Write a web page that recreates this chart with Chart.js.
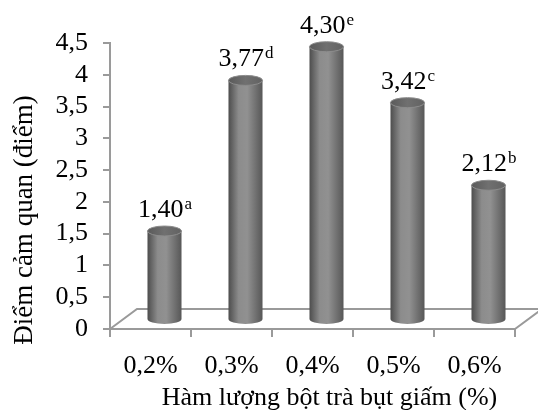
<!DOCTYPE html>
<html lang="vi">
<head>
<meta charset="UTF-8">
<title>Điểm cảm quan</title>
<style>
  html, body { margin: 0; padding: 0; background: #fff; }
  #wrap { width: 538px; height: 410px; }
</style>
</head>
<body>
<div id="wrap"><canvas id="chart" width="538" height="410"></canvas></div>
<script src="https://cdn.jsdelivr.net/npm/chart.js"></script>
<script>
const categories = ["0,2%", "0,3%", "0,4%", "0,5%", "0,6%"];
const scores = [1.40, 3.77, 4.30, 3.42, 2.12];
const letters = ["a", "d", "e", "c", "b"];
const yTicks = [0, 0.5, 1, 1.5, 2, 2.5, 3, 3.5, 4, 4.5];

const FONT = '"Liberation Serif", "Times New Roman", serif';
const AXIS_GREY = "#9a9a9a";
// fake 3D depth: floor goes back by this much, bars sit halfway
const DEPTH_X = 27, DEPTH_Y = -20;
const BAR_DX = 14, BAR_DY = -9;

function comma(v) {
  return String(v).replace(".", ",");
}

// floor outline behind the bars
const floorPlugin = {
  id: "floor",
  beforeDatasetsDraw(chart) {
    const { ctx, chartArea } = chart;
    const l = chartArea.left, r = chartArea.right, b = chartArea.bottom;
    ctx.save();
    ctx.strokeStyle = AXIS_GREY;
    ctx.lineWidth = 2;
    ctx.beginPath();
    ctx.moveTo(l, b);
    ctx.lineTo(l + DEPTH_X, b + DEPTH_Y);
    ctx.lineTo(r + DEPTH_X, b + DEPTH_Y);
    ctx.moveTo(r, b);
    ctx.lineTo(r + DEPTH_X, b + DEPTH_Y);
    ctx.stroke();
    ctx.restore();
  }
};

// cylinders + value labels with superscript letters
const cylinderPlugin = {
  id: "cylinders",
  afterDatasetsDraw(chart) {
    const { ctx } = chart;
    const meta = chart.getDatasetMeta(0);
    meta.data.forEach((bar, i) => {
      const rx = bar.width / 2, ry = 5;
      const cx = bar.x + BAR_DX;
      const top = bar.y + BAR_DY;
      const bottom = bar.base + BAR_DY;

      ctx.save();
      const g = ctx.createLinearGradient(cx - rx, 0, cx + rx, 0);
      g.addColorStop(0, "#4d4d4d");
      g.addColorStop(0.3, "#8c8c8c");
      g.addColorStop(0.55, "#919191");
      g.addColorStop(1, "#575757");
      ctx.fillStyle = g;
      ctx.beginPath();
      ctx.moveTo(cx - rx, top);
      ctx.lineTo(cx - rx, bottom);
      ctx.ellipse(cx, bottom, rx, ry, 0, Math.PI, 0, true);
      ctx.lineTo(cx + rx, top);
      ctx.closePath();
      ctx.fill();

      const gt = ctx.createLinearGradient(cx - rx, 0, cx + rx, 0);
      gt.addColorStop(0, "#5a5a5a");
      gt.addColorStop(0.5, "#707070");
      gt.addColorStop(1, "#626262");
      ctx.fillStyle = gt;
      ctx.beginPath();
      ctx.ellipse(cx, top, rx, ry, 0, 0, Math.PI * 2);
      ctx.fill();
      ctx.strokeStyle = "#8c8c8c";
      ctx.lineWidth = 1;
      ctx.stroke();

      // value label + letter
      const txt = scores[i].toFixed(2).replace(".", ",");
      const sup = letters[i];
      ctx.fillStyle = "#000";
      ctx.textBaseline = "alphabetic";
      ctx.textAlign = "left";
      ctx.font = "26px " + FONT;
      const w1 = ctx.measureText(txt).width;
      ctx.font = "17px " + FONT;
      const w2 = ctx.measureText(sup).width;
      const x0 = cx - (w1 + w2) / 2;
      const base = top - ry - 9;
      ctx.font = "26px " + FONT;
      ctx.fillText(txt, x0, base);
      ctx.font = "17px " + FONT;
      ctx.fillText(sup, x0 + w1 + 1, base - 8);
      ctx.restore();
    });
  }
};

// axis titles, centred the way the 3D plot is (shifted by the depth)
const titlePlugin = {
  id: "axisTitles",
  afterDraw(chart) {
    const { ctx, chartArea } = chart;
    ctx.save();
    ctx.fillStyle = "#000";
    ctx.textAlign = "center";
    ctx.textBaseline = "middle";
    ctx.font = "26px " + FONT;
    ctx.fillText("Hàm lượng bột trà bụt giấm (%)", (chartArea.left + chartArea.right) / 2 + 17, chartArea.bottom + 69);
    ctx.translate(25, chartArea.bottom - 109);
    ctx.rotate(-Math.PI / 2);
    ctx.font = "27px " + FONT;
    ctx.fillText("Điểm cảm quan (điểm)", 0, 0);
    ctx.restore();
  }
};

new Chart(document.getElementById("chart"), {
  type: "bar",
  data: {
    labels: categories,
    datasets: [{
      data: scores,
      backgroundColor: "rgba(0,0,0,0)",
      borderWidth: 0,
      categoryPercentage: 1,
      barPercentage: 0.42
    }]
  },
  options: {
    responsive: false,
    animation: false,
    devicePixelRatio: 1,
    layout: { padding: { top: 43, right: 23, left: 0, bottom: 0 } },
    plugins: {
      legend: { display: false },
      tooltip: { enabled: false }
    },
    scales: {
      x: {
        grid: { drawOnChartArea: false, tickLength: 8, color: AXIS_GREY, lineWidth: 2, offset: true },
        border: { color: AXIS_GREY, width: 2 },
        ticks: { color: "#000", font: { family: FONT, size: 26 }, padding: 14, maxRotation: 0 },
        afterFit(scale) { scale.height = 81; }
      },
      y: {
        min: 0,
        max: 4.5,
        afterBuildTicks(scale) { scale.ticks = yTicks.map(v => ({ value: v })); },
        grid: { drawOnChartArea: false, tickLength: 7, color: AXIS_GREY, lineWidth: 2 },
        border: { color: AXIS_GREY, width: 2 },
        ticks: {
          color: "#000",
          font: { family: FONT, size: 26 },
          padding: 15,
          autoSkip: false,
          callback: v => comma(v)
        },
        afterFit(scale) { scale.width = 110; }
      }
    }
  },
  plugins: [floorPlugin, cylinderPlugin, titlePlugin]
});
</script>
</body>
</html>
